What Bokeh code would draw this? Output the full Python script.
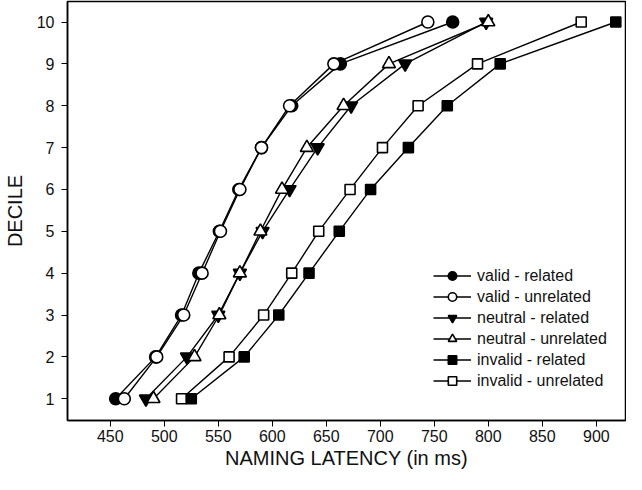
from bokeh.plotting import figure
from bokeh.models import Range1d, FixedTicker, Legend
from bokeh.embed import file_html
from bokeh.resources import INLINE

deciles = [1, 2, 3, 4, 5, 6, 7, 8, 9, 10]
valid_related = [455, 492, 516, 532, 551, 569, 590, 618, 663, 767]
valid_unrelated = [463, 493, 518, 535, 552, 570, 590, 616, 657, 744]
neutral_related = [483, 521, 550, 570, 591, 616, 642, 673, 723, 798]
neutral_unrelated = [490, 528, 551, 570, 589, 609, 632, 666, 708, 800]
invalid_related = [525, 574, 606, 634, 662, 691, 726, 762, 811, 918]
invalid_unrelated = [516, 560, 592, 618, 643, 672, 702, 735, 790, 886]
x_ticks = [450, 500, 550, 600, 650, 700, 750, 800, 850, 900]

FONT = "Liberation Sans"

p = figure(width=626, height=474, output_backend="svg", toolbar_location=None,
           x_range=Range1d(410.4, 927), y_range=Range1d(0.48, 10.49),
           min_border_left=59, min_border_right=1, min_border_top=1, min_border_bottom=54)
p.grid.visible = False
p.outline_line_color = "black"
p.outline_line_width = 1.5

for ax in (p.xaxis[0], p.yaxis[0]):
    ax.axis_line_color = "black"
    ax.axis_line_width = 1.5
    ax.major_tick_line_color = "black"
    ax.major_tick_line_width = 1
    ax.major_tick_out = 6
    ax.major_tick_in = 0
    ax.minor_tick_line_color = None
    ax.major_label_text_font = FONT
    ax.major_label_text_font_size = "16px"
    ax.major_label_text_color = "#111111"
    ax.axis_label_text_font = FONT
    ax.axis_label_text_font_size = "20px"
    ax.axis_label_text_font_style = "normal"
    ax.axis_label_text_color = "#111111"

p.xaxis.ticker = FixedTicker(ticks=x_ticks)
p.yaxis.ticker = FixedTicker(ticks=deciles)
p.xaxis.axis_label = "NAMING LATENCY (in ms)"
p.yaxis.axis_label = "DECILE"
p.xaxis.major_label_standoff = 3
p.xaxis.axis_label_standoff = 2
p.yaxis.major_label_standoff = 7
p.yaxis.axis_label_standoff = 8

series = [
    ("valid - related", valid_related, "circle", "black", 12),
    ("valid - unrelated", valid_unrelated, "circle", "white", 12),
    ("neutral - related", neutral_related, "inverted_triangle", "black", 13),
    ("neutral - unrelated", neutral_unrelated, "triangle", "white", 13),
    ("invalid - unrelated", invalid_unrelated, "square", "white", 10),
    ("invalid - related", invalid_related, "square", "black", 10),
]

items = {}
for label, xs, marker, fill, size in series:
    l = p.line(xs, deciles, line_color="black", line_width=1.4)
    s = p.scatter(xs, deciles, marker=marker, size=size, fill_color=fill,
                  line_color="black", line_width=1.6)
    items[label] = [l, s]

order = ["valid - related", "valid - unrelated", "neutral - related",
         "neutral - unrelated", "invalid - related", "invalid - unrelated"]
legend = Legend(items=[(k, items[k]) for k in order], location=(366, 29))
legend.glyph_width = 38
legend.glyph_height = 21
legend.label_height = 21
legend.spacing = 0
legend.padding = 0
legend.margin = 0
legend.label_standoff = 6
legend.label_text_font = FONT
legend.label_text_font_size = "16px"
legend.label_text_color = "#111111"
legend.border_line_color = None
legend.background_fill_alpha = 0
p.add_layout(legend, "center")

open("out.html", "w").write(file_html(p, INLINE))
